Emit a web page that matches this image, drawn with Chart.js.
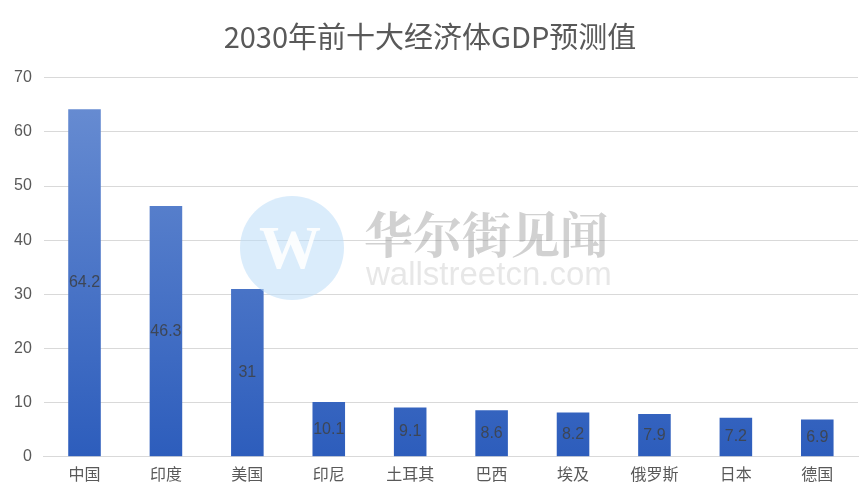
<!DOCTYPE html>
<html>
<head>
<meta charset="utf-8">
<script src="https://cdn.jsdelivr.net/npm/chart.js@4.4.1/dist/chart.umd.min.js"></script>
<style>
  html, body { margin: 0; padding: 0; background: #fff; }
  #wrap { width: 867px; height: 500px; }
</style>
</head>
<body>
<div id="wrap"><canvas id="barChart" width="867" height="500"></canvas></div>
<script>
const countries = ['中国', '印度', '美国', '印尼', '土耳其', '巴西', '埃及', '俄罗斯', '日本', '德国'];
const gdpValues = [64.2, 46.3, 31, 10.1, 9.1, 8.6, 8.2, 7.9, 7.2, 6.9];
const chartTitle = '2030年前十大经济体GDP预测值';

const fontFamily = '"Liberation Sans", "Noto Sans CJK SC", sans-serif';

function barGradient(context) {
    const chart = context.chart;
    const area = chart.chartArea;
    if (!area) return '#3a67c4';
    const ctx = chart.ctx;
    const g = ctx.createLinearGradient(0, area.top, 0, area.bottom);
    g.addColorStop(0, '#6b8fd3');
    g.addColorStop(1, '#2d5dbc');
    return g;
}

// values drawn in the middle of each bar
const centerLabels = {
    id: 'centerLabels',
    afterDatasetsDraw(chart) {
        const ctx = chart.ctx;
        const meta = chart.getDatasetMeta(0);
        ctx.save();
        ctx.font = '16px ' + fontFamily;
        ctx.fillStyle = '#3d4656';
        ctx.textAlign = 'center';
        ctx.textBaseline = 'middle';
        meta.data.forEach((bar, i) => {
            const y = (bar.y + bar.base) / 2;
            ctx.fillText(String(gdpValues[i]), bar.x, y);
        });
        ctx.restore();
    }
};

// faint wallstreetcn watermark over the plot
const watermark = {
    id: 'watermark',
    afterDraw(chart) {
        const ctx = chart.ctx;
        ctx.save();
        ctx.globalAlpha = 0.55;
        ctx.fillStyle = '#bcdcf8';
        ctx.beginPath();
        ctx.arc(292, 248, 52, 0, Math.PI * 2);
        ctx.fill();
        ctx.globalAlpha = 0.9;
        ctx.fillStyle = '#ffffff';
        ctx.font = 'bold 62px "Liberation Serif", serif';
        ctx.textAlign = 'center';
        ctx.textBaseline = 'middle';
        ctx.fillText('W', 290, 252);
        ctx.globalAlpha = 0.4;
        ctx.fillStyle = '#8c8c8c';
        ctx.font = 'bold 49px "Noto Serif CJK SC", "Noto Sans CJK SC", serif';
        ctx.textAlign = 'left';
        ctx.fillText('华尔街见闻', 364, 234);
        ctx.globalAlpha = 0.3;
        ctx.fillStyle = '#b0b0b0';
        ctx.font = '33px "Liberation Sans", sans-serif';
        ctx.fillText('wallstreetcn.com', 366, 276);
        ctx.restore();
    }
};

const ctx = document.getElementById('barChart').getContext('2d');

new Chart(ctx, {
    type: 'bar',
    data: {
        labels: countries,
        datasets: [{
            data: gdpValues,
            backgroundColor: barGradient,
            borderWidth: 0,
            categoryPercentage: 1.0,
            barPercentage: 0.4
        }]
    },
    options: {
        responsive: false,
        animation: false,
        layout: { padding: { left: 2, right: 9, top: 0, bottom: 16 } },
        plugins: {
            legend: { display: false },
            tooltip: { enabled: false },
            title: {
                display: true,
                text: chartTitle,
                color: '#595959',
                font: { family: '"Noto Sans CJK SC", sans-serif', size: 29, weight: 'normal' },
                padding: { top: 20, bottom: 23 }
            }
        },
        scales: {
            x: {
                grid: { display: false },
                border: { color: '#d9d9d9', width: 1 },
                ticks: {
                    color: '#595959',
                    font: { family: '"Noto Sans CJK SC", sans-serif', size: 16 },
                    padding: 0
                }
            },
            y: {
                min: 0,
                max: 70,
                ticks: {
                    stepSize: 10,
                    color: '#595959',
                    font: { family: fontFamily, size: 16 },
                    padding: 12
                },
                grid: { color: '#d9d9d9', drawTicks: false },
                border: { display: false }
            }
        }
    },
    plugins: [centerLabels, watermark]
});
</script>
</body>
</html>
